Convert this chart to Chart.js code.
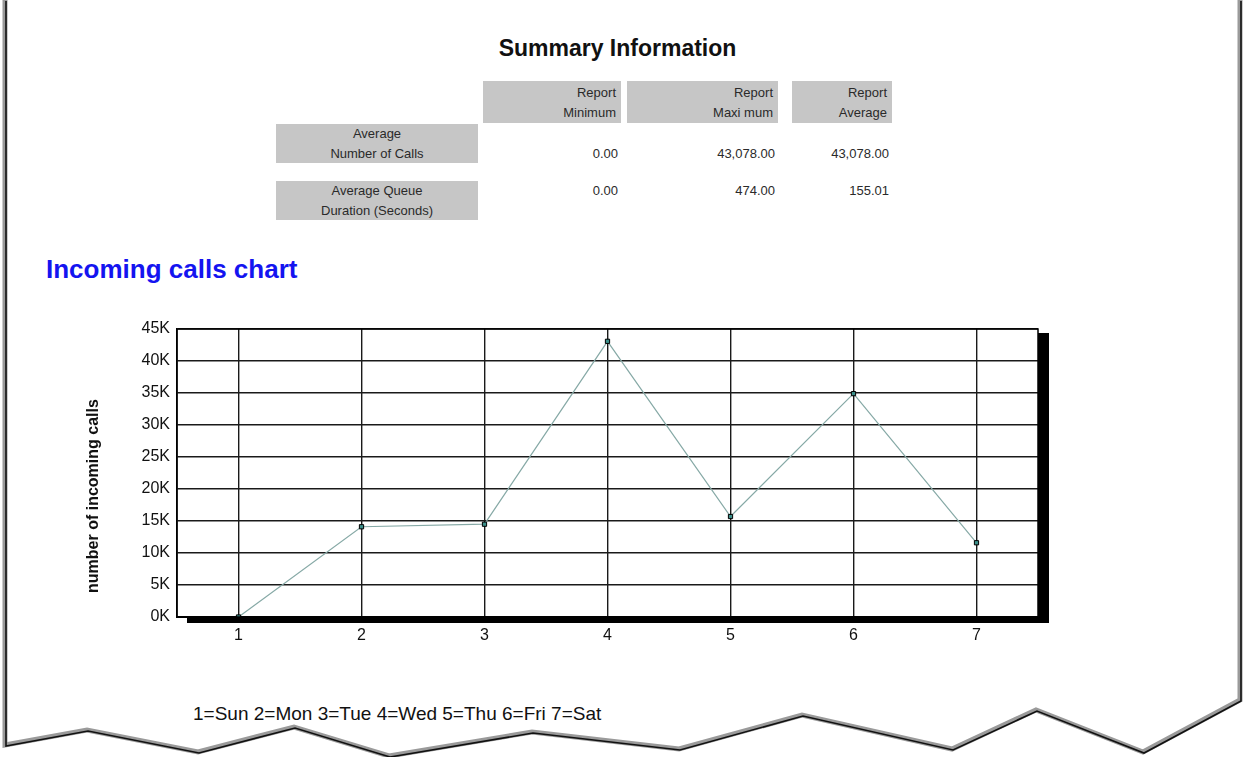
<!DOCTYPE html>
<html>
<head>
<meta charset="utf-8">
<script src="https://cdn.jsdelivr.net/npm/chart.js@4/dist/chart.umd.min.js"></script>
<style>
  body { margin: 0; width: 1245px; height: 757px; background: #fff; position: relative; overflow: hidden; font-family: "Liberation Sans", Arial, sans-serif; }
  .abs { position: absolute; }
  #title { left: 0; width: 1235px; top: 35px; text-align: center; font-weight: bold; font-size: 23px; color: #111; }
  .cell { position: absolute; background: #c6c6c6; font-size: 13px; color: #2a2a2a; line-height: 20px; box-sizing: border-box; }
  .hdr { text-align: right; padding: 2px 5px 0 0; }
  .lbl { text-align: center; padding-top: 0px; }
  .val { position: absolute; font-size: 13px; color: #2a2a2a; text-align: right; }
  #chartTitle { left: 46px; top: 254px; font-size: 26px; font-weight: bold; color: #1414f0; }
  #legendText { left: 193px; top: 703px; font-size: 19px; color: #111; }
  #wrap { position: absolute; left: 80px; top: 310px; width: 1000px; height: 345px; }
  svg { position: absolute; left: 0; top: 0; }
</style>
</head>
<body>
<div id="title" class="abs">Summary Information</div>
<div id="table"></div>
<div id="chartTitle" class="abs">Incoming calls chart</div>
<div id="wrap"><canvas id="callsChart" width="1000" height="345"></canvas></div>
<div id="legendText" class="abs">1=Sun 2=Mon 3=Tue 4=Wed 5=Thu 6=Fri 7=Sat</div>
<svg width="1245" height="757">
  <polyline id="edge" fill="none" stroke="#9a9a9a" stroke-width="5" stroke-linejoin="miter"></polyline>
  <polyline id="edge2" fill="none" stroke="#111" stroke-width="1.6" stroke-linejoin="miter"></polyline>
</svg>
<script>
// Dados do gráfico
const days = ["1", "2", "3", "4", "5", "6", "7"];
const incomingCalls = [0, 14100, 14500, 43078, 15700, 34900, 11600];
const yMax = 45000;
const yStep = 5000;
const yTitle = "number of incoming calls";

// Dados da tabela de resumo
const summaryHeaders = [["Report", "Minimum"], ["Report", "Maxi mum"], ["Report", "Average"]];
const summaryLabels = [["Average", "Number of Calls"], ["Average Queue", "Duration (Seconds)"]];
const summaryValues = [
  ["0.00", "43,078.00", "43,078.00"],
  ["0.00", "474.00", "155.01"],
];

// Tabela
const table = document.getElementById("table");
const colBoxes = [[483, 621], [627, 778], [792, 892]];
summaryHeaders.forEach((h, i) => {
  const d = document.createElement("div");
  d.className = "cell hdr";
  d.style.left = colBoxes[i][0] + "px";
  d.style.top = "81px";
  d.style.width = colBoxes[i][1] - colBoxes[i][0] + "px";
  d.style.height = "42px";
  d.innerHTML = h.join("<br>");
  table.appendChild(d);
});
const rowTops = [124, 181];
summaryLabels.forEach((l, r) => {
  const d = document.createElement("div");
  d.className = "cell lbl";
  d.style.left = "276px";
  d.style.top = rowTops[r] + "px";
  d.style.width = "202px";
  d.style.height = "39px";
  d.innerHTML = l.join("<br>");
  table.appendChild(d);
});
const valTops = [146, 183];
summaryValues.forEach((row, r) => {
  row.forEach((v, c) => {
    const d = document.createElement("div");
    d.className = "val";
    d.style.left = colBoxes[c][0] - 60 + "px";
    d.style.width = colBoxes[c][1] - colBoxes[c][0] + 57 + "px";
    d.style.top = valTops[r] + "px";
    d.textContent = v;
    table.appendChild(d);
  });
});

// Borda rasgada da página
const tornEdge = [[5, 0], [5, 745], [87, 730], [198, 752], [294, 727], [389, 756], [532, 732], [679, 749],
  [802, 715], [952, 749], [1036, 710], [1143, 752], [1240, 700], [1240, 0]];
document.getElementById("edge").setAttribute("points", tornEdge.map((p) => p.join(",")).join(" "));
document.getElementById("edge2").setAttribute("points", tornEdge.map((p) => (p[0] + 1) + "," + (p[1] + 1)).join(" "));

// Sombra, moldura e título do eixo Y
const frameShadow = {
  id: "frameShadow",
  beforeDraw(chart) {
    const { ctx, chartArea: a } = chart;
    ctx.save();
    ctx.fillStyle = "#000";
    ctx.fillRect(a.left + 10, a.top + 4, a.right - a.left + 1, a.bottom - a.top + 2);
    ctx.fillStyle = "#fff";
    ctx.fillRect(a.left, a.top, a.right - a.left, a.bottom - a.top);
    ctx.restore();
  },
  afterDatasetsDraw(chart) {
    const { ctx, chartArea: a } = chart;
    ctx.save();
    ctx.strokeStyle = "#000";
    ctx.lineWidth = 1.5;
    ctx.strokeRect(a.left, a.top, a.right - a.left, a.bottom - a.top);
    // título do eixo, um pouco abaixo do centro como no original
    ctx.translate(14, a.top + (a.bottom - a.top) * 0.58);
    ctx.rotate(-Math.PI / 2);
    ctx.fillStyle = "#111";
    ctx.font = "bold 16px 'Liberation Sans'";
    ctx.textAlign = "center";
    ctx.textBaseline = "middle";
    ctx.fillText(yTitle, 0, 0);
    ctx.restore();
  },
};

const ctx = document.getElementById("callsChart");
new Chart(ctx, {
  type: "line",
  data: {
    labels: days,
    datasets: [
      {
        data: incomingCalls,
        borderColor: "#86a9a6",
        borderWidth: 1.2,
        pointStyle: "rect",
        pointRadius: 3,
        pointBackgroundColor: "#3b8f8a",
        pointBorderColor: "#000",
        pointBorderWidth: 1,
        tension: 0,
      },
    ],
  },
  options: {
    responsive: false,
    animation: false,
    layout: { padding: { top: 19, right: 42, left: 0, bottom: 0 } },
    plugins: { legend: { display: false }, tooltip: { enabled: false } },
    scales: {
      x: {
        type: "category",
        offset: true,
        grid: { offset: false, color: "#1a1a1a", lineWidth: 1.4, drawTicks: false },
        border: { color: "#000", width: 2 },
        ticks: { padding: 9, color: "#111", font: { family: "Liberation Sans", size: 16 } },
        afterFit: (s) => { s.height = 38; },
      },
      y: {
        min: 0,
        max: yMax,
        grid: { color: "#1a1a1a", lineWidth: 1.4, drawTicks: false },
        border: { color: "#000", width: 1.5 },
        ticks: {
          stepSize: yStep,
          padding: 7,
          color: "#111",
          font: { family: "Liberation Sans", size: 16 },
          callback: (v) => v / 1000 + "K",
        },
        afterFit: (s) => { s.width = 97; },
      },
    },
  },
  plugins: [frameShadow],
});
</script>
</body>
</html>
